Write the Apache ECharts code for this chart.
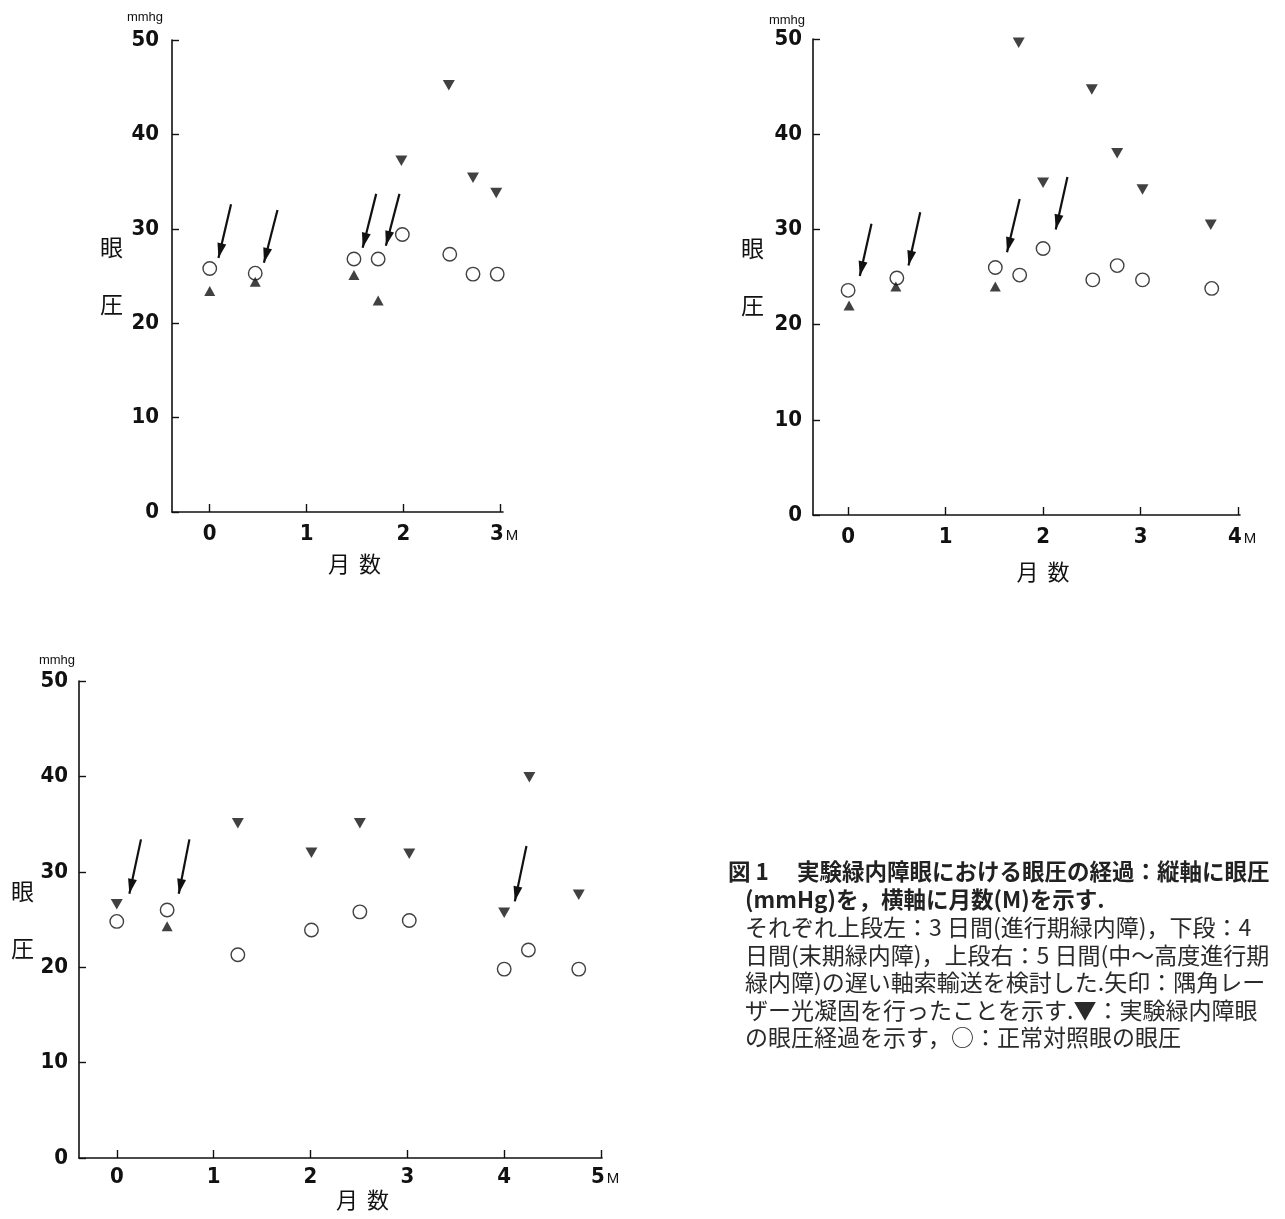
<!DOCTYPE html>
<html lang="ja">
<head>
<meta charset="UTF-8">
<title>実験緑内障眼における眼圧の経過</title>
<style>
    html, body { margin: 0; padding: 0; background: #fff; }
    #main { width: 1285px; height: 1219px; }
</style>
</head>
<body>
<div id="main"></div>
<script src="https://cdn.jsdelivr.net/npm/echarts@6/dist/echarts.min.js"></script>
<script>
// 目盛り
var yTicks = [0, 10, 20, 30, 40, 50];
var monthsUL = [0, 1, 2, 3];
var monthsUR = [0, 1, 2, 3, 4];
var monthsLo = [0, 1, 2, 3, 4, 5];

// 上段左 (3日間) : [月数, 眼圧]
var ulNormal = [[0, 25.8], [0.47, 25.3], [1.49, 26.8], [1.74, 26.8], [1.99, 29.4], [2.48, 27.3], [2.72, 25.2], [2.97, 25.2]];
var ulUp = [[0, 23.4], [0.47, 24.4], [1.49, 25.1], [1.74, 22.4]];
var ulDown = [[1.98, 37.2], [2.47, 45.2], [2.72, 35.4], [2.96, 33.8]];
var ulArrows = [[[0.22, 32.6], [0.09, 26.9]], [[0.70, 32.0], [0.56, 26.4]], [[1.72, 33.7], [1.58, 28.0]], [[1.96, 33.7], [1.82, 28.2]]];

// 上段右 (5日間)
var urNormal = [[0, 23.6], [0.50, 24.9], [1.51, 26.0], [1.76, 25.2], [2.0, 28.0], [2.51, 24.7], [2.76, 26.2], [3.02, 24.7], [3.73, 23.8]];
var urUp = [[0.01, 22.0], [0.49, 24.0], [1.51, 24.0]];
var urDown = [[1.75, 49.6], [2.0, 34.9], [2.50, 44.7], [2.76, 38.0], [3.02, 34.2], [3.72, 30.5]];
var urArrows = [[[0.24, 30.6], [0.12, 25.1]], [[0.74, 31.8], [0.62, 26.2]], [[1.76, 33.2], [1.63, 27.6]], [[2.25, 35.5], [2.13, 30.0]]];

// 下段 (4日間)
var loNormal = [[0, 24.8], [0.52, 26.0], [1.25, 21.3], [2.01, 23.9], [2.51, 25.8], [3.02, 24.9], [4.0, 19.8], [4.25, 21.8], [4.77, 19.8]];
var loUp = [[0.52, 24.3]];
var loDown = [[0, 26.6], [1.25, 35.1], [2.01, 32.0], [2.51, 35.1], [3.02, 31.9], [4.0, 25.7], [4.26, 39.9], [4.77, 27.6]];
var loArrows = [[[0.25, 33.4], [0.13, 27.7]], [[0.75, 33.4], [0.64, 27.7]], [[4.23, 32.7], [4.11, 26.9]]];

// 説明文
var captionHead = ['図 1', '実験緑内障眼における眼圧の経過：縦軸に眼圧', '(mmHg)を，横軸に月数(M)を示す.'];
var captionBody = [
    'それぞれ上段左：3 日間(進行期緑内障)，下段：4',
    '日間(末期緑内障)，上段右：5 日間(中〜高度進行期',
    '緑内障)の遅い軸索輸送を検討した.矢印：隅角レー',
    'ザー光凝固を行ったことを示す.▼：実験緑内障眼',
    'の眼圧経過を示す，○：正常対照眼の眼圧'
];

var NUM_FONT = "'DejaVu Sans Condensed', 'Liberation Sans', Arial, sans-serif";
var JP_FONT = "'Noto Sans CJK JP', 'Noto Sans CJK SC', sans-serif";
var INK = '#111111';

var panels = [
    { months: monthsUL, normal: ulNormal, up: ulUp, down: ulDown, arrows: ulArrows,
      grid: { left: 172, top: 40, width: 331, height: 472 }, xMin: -0.39, xMax: 3.03,
      unitGap: 16, unitPad: 9, kanjiGap: 49, kanjiPad: 0, nameGap: 40, namePad: 34, mx: 11, my: 13 },
    { months: monthsUR, normal: urNormal, up: urUp, down: urDown, arrows: urArrows,
      grid: { left: 813, top: 39, width: 427, height: 476 }, xMin: -0.36, xMax: 4.02,
      unitGap: 12, unitPad: 8, kanjiGap: 49, kanjiPad: 18, nameGap: 45, namePad: 33, mx: 11, my: 11 },
    { months: monthsLo, normal: loNormal, up: loUp, down: loDown, arrows: loArrows,
      grid: { left: 79, top: 681, width: 523, height: 477 }, xMin: -0.39, xMax: 5.01,
      unitGap: 14, unitPad: 4, kanjiGap: 45, kanjiPad: 10, nameGap: 30, namePad: 44, mx: 8, my: 11 }
];

var numStyle = { fontFamily: NUM_FONT, fontWeight: 'bold', fontSize: 22, color: INK };
var headStyle = { fontFamily: JP_FONT, fontWeight: 'bold', fontSize: 22.5, lineHeight: 28, color: '#222' };

var option = {
    backgroundColor: '#ffffff',
    animation: false,
    title: [
        {
            left: 728, top: 857, padding: 0,
            text: '{a|' + captionHead[0] + '}{s|' + captionHead[1] + '}\n{b|' + captionHead[2] + '}',
            textStyle: {
                rich: {
                    a: headStyle,
                    s: Object.assign({}, headStyle, { padding: [0, 0, 0, 28] }),
                    b: Object.assign({}, headStyle, { padding: [0, 0, 0, 17] })
                }
            }
        },
        {
            left: 745, top: 914, padding: 0,
            text: captionBody.join('\n'),
            textStyle: { fontFamily: JP_FONT, fontWeight: 'normal', fontSize: 23, lineHeight: 27.5, color: '#2a2a2a' }
        }
    ],
    grid: [], xAxis: [], yAxis: [], series: []
};

panels.forEach(function (p, i) {
    var last = p.months[p.months.length - 1];
    option.grid.push(p.grid);
    option.xAxis.push({
        gridIndex: i, type: 'value', min: p.xMin, max: p.xMax,
        name: '{c|月}{d|数}', nameLocation: 'middle', nameGap: p.nameGap,
        nameTextStyle: {
            padding: [0, 0, 0, p.namePad],
            rich: {
                c: { fontFamily: JP_FONT, fontSize: 22, lineHeight: 24, color: INK },
                d: { fontFamily: JP_FONT, fontSize: 22, lineHeight: 24, color: INK, padding: [0, 0, 0, 9] }
            }
        },
        axisLine: { onZero: false, lineStyle: { color: INK, width: 1.6 } },
        axisTick: { inside: true, length: 8, customValues: p.months, lineStyle: { color: INK, width: 1.4 } },
        axisLabel: {
            customValues: p.months, margin: p.mx,
            formatter: function (v) {
                return v === last ? '{w|' + v + '}{m|M}' : '{v|' + v + '}';
            },
            rich: {
                v: numStyle,
                w: Object.assign({}, numStyle, { padding: [0, 0, 0, 8], verticalAlign: 'bottom' }),
                m: { fontFamily: "'Liberation Sans', Arial, sans-serif", fontSize: 15, color: INK, padding: [0, 0, 2, 2], verticalAlign: 'bottom' }
            }
        },
        splitLine: { show: false }
    });
    option.yAxis.push({
        gridIndex: i, type: 'value', position: 'left', min: 0, max: 50, interval: 10,
        name: 'mmhg', nameLocation: 'end', nameGap: p.unitGap,
        nameTextStyle: { align: 'right', padding: [0, p.unitPad, 0, 0], fontFamily: "'Liberation Sans Narrow', 'Liberation Sans', sans-serif", fontSize: 13, color: INK },
        axisLine: { show: true, onZero: false, lineStyle: { color: INK, width: 1.6 } },
        axisTick: { show: true, inside: true, length: 7, lineStyle: { color: INK, width: 1.4 } },
        axisLabel: Object.assign({ margin: p.my }, numStyle),
        splitLine: { show: false }
    });
    option.yAxis.push({
        gridIndex: i, type: 'value', position: 'left', min: 0, max: 50,
        name: '眼\n圧', nameLocation: 'middle', nameRotate: 0, nameGap: p.kanjiGap,
        nameTextStyle: { fontFamily: JP_FONT, fontSize: 23, lineHeight: 57, color: INK, padding: [p.kanjiPad, 0, 0, 0] },
        axisLine: { show: false, onZero: false }, axisTick: { show: false },
        axisLabel: { show: false }, splitLine: { show: false }
    });

    option.series.push({
        type: 'scatter', xAxisIndex: i, yAxisIndex: i * 2, z: 2, silent: true,
        data: p.normal, symbol: 'circle', symbolSize: 13.5,
        itemStyle: { color: '#ffffff', borderColor: INK, borderWidth: 1.4 },
        markLine: {
            silent: true, animation: false,
            symbol: ['none', 'triangle'],
            label: { show: false },
            lineStyle: { color: INK, width: 2.2, type: 'solid' },
            // 矢印: 隅角レーザー光凝固
            data: p.arrows.map(function (a) {
                return [
                    { coord: a[0], symbolSize: 1 },
                    { coord: a[1], symbolSize: [9, 15], symbolOffset: [0, 7.5] }
                ];
            })
        }
    });
    option.series.push({
        type: 'scatter', xAxisIndex: i, yAxisIndex: i * 2, z: 3, silent: true,
        data: p.up, symbol: 'triangle', symbolSize: [11, 10],
        itemStyle: { color: INK }
    });
    option.series.push({
        type: 'scatter', xAxisIndex: i, yAxisIndex: i * 2, z: 3, silent: true,
        data: p.down, symbol: 'triangle', symbolRotate: 180, symbolSize: [12, 10.5],
        itemStyle: { color: INK }
    });
});

var myChart = echarts.init(document.getElementById('main'));
myChart.setOption(option);
</script>
</body>
</html>
